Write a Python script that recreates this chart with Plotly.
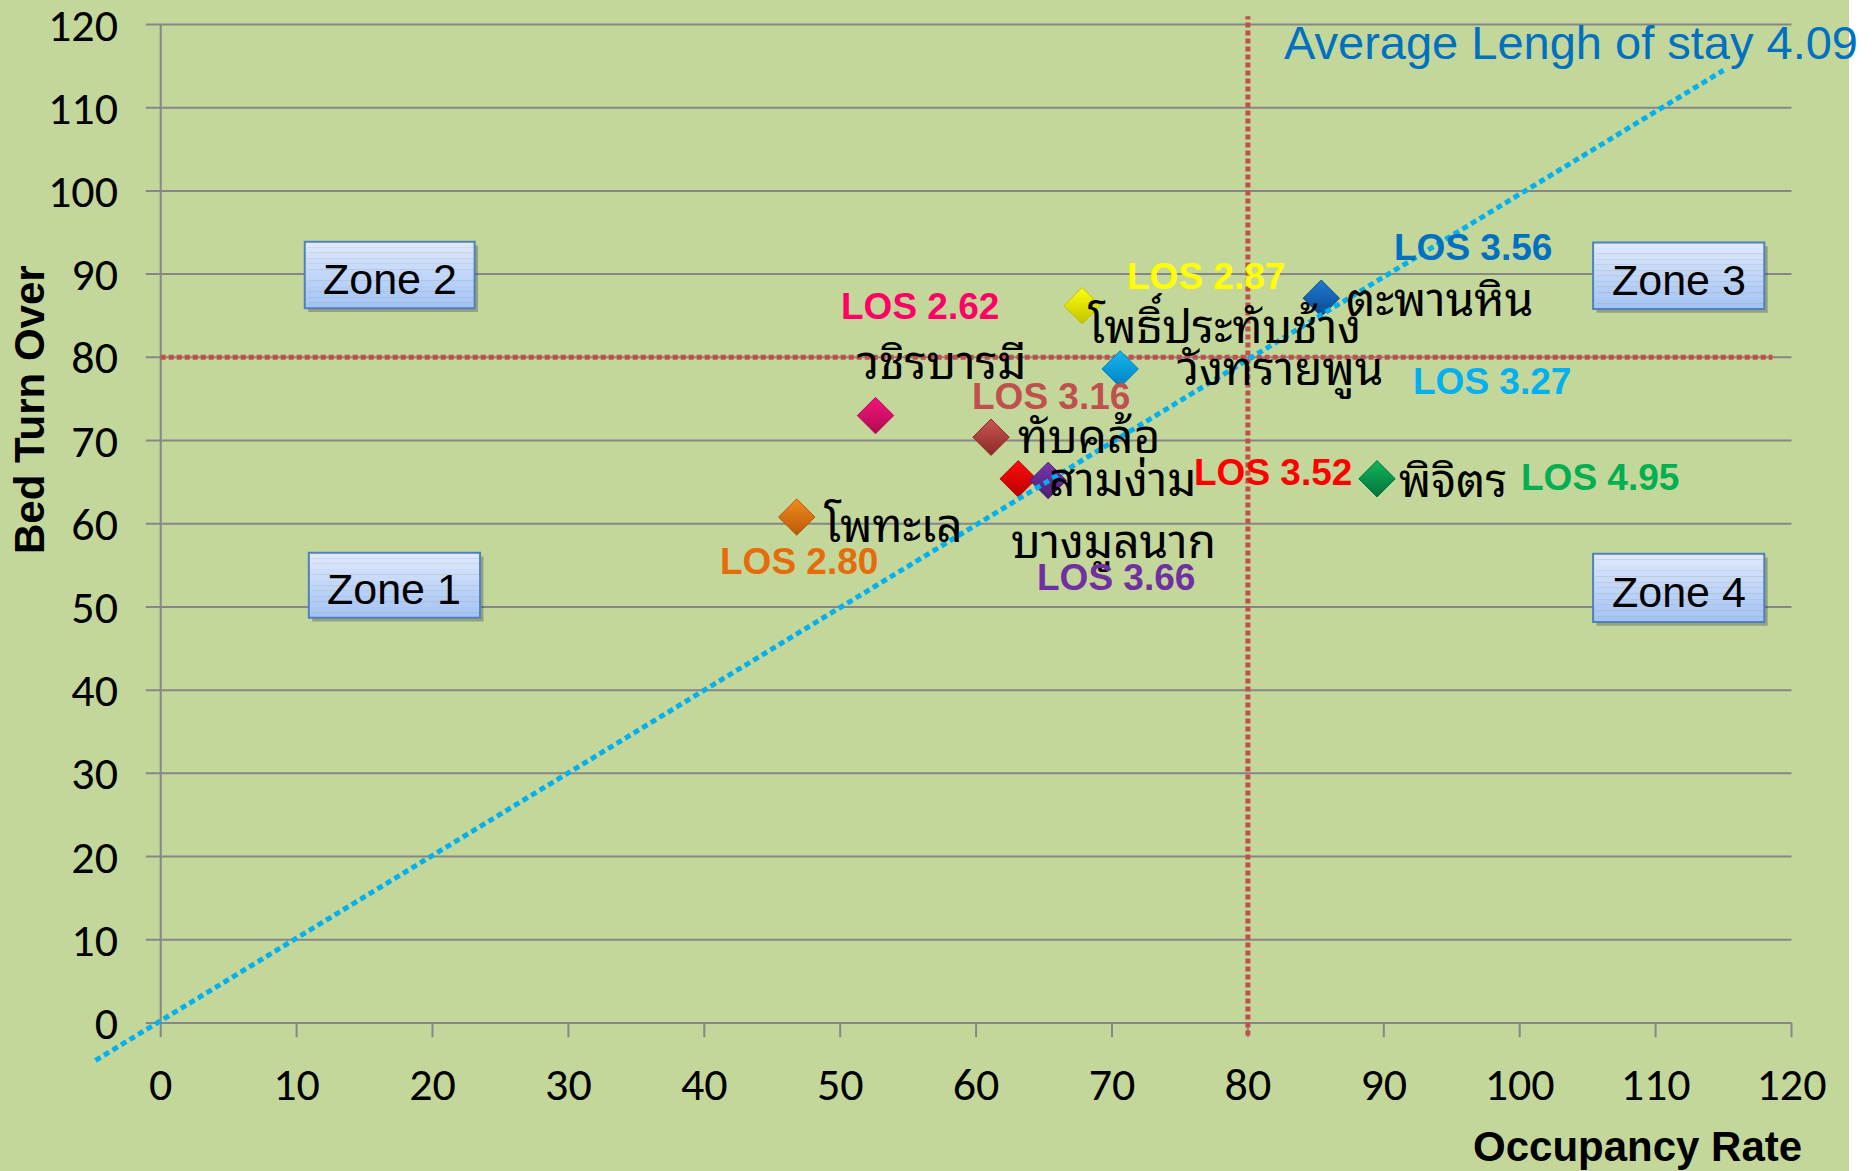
import plotly.graph_objects as go

# ---------------- data ----------------
hospitals = ["โพทะเล", "วชิรบารมี", "ทับคล้อ", "สามง่าม", "บางมูลนาก",
             "โพธิ์ประทับช้าง", "วังทรายพูน", "ตะพานหิน", "พิจิตร"]
occupancy_rate = [46.8, 52.6, 61.1, 63.1, 65.3, 67.8, 70.6, 85.4, 89.5]
bed_turn_over = [60.8, 73.0, 70.4, 65.4, 65.2, 86.2, 78.6, 87.1, 65.4]
los_values = [2.80, 2.62, 3.16, 3.52, 3.66, 2.87, 3.27, 3.56, 4.95]

x_ticks = [0, 10, 20, 30, 40, 50, 60, 70, 80, 90, 100, 110, 120]
y_ticks = [0, 10, 20, 30, 40, 50, 60, 70, 80, 90, 100, 110, 120]

occupancy_target = 80
turnover_target = 80
avg_los = 4.09
trend_x = [-4.8, 115.0]
trend_y = [-4.5, 114.5]

zone_labels = ["Zone 1", "Zone 2", "Zone 3", "Zone 4"]

# ---------------- style ----------------
marker_colors = ["#f58a1f", "#f5157d", "#cc5552", "#ff0d0d", "#7b38ae",
                 "#ffff10", "#18b6f0", "#1c7bd2", "#12b55a"]
marker_dark = ["#b85a08", "#b00a52", "#8a2a28", "#b80000", "#4a1c74",
               "#c2c200", "#0080c0", "#0a4a8c", "#00743a"]
los_colors = ["#e46c0a", "#ff0066", "#c0504d", "#ff0000", "#7030a0",
              "#ffff00", "#00b0f0", "#0070c0", "#00b050"]
# pixel offsets (dx right, dy down) of labels from their marker
name_offsets = [(97, 4), (66, -58), (98, -5), (104, -4), (65, 57),
                (142, 16), (160, -5), (118, -3), (76, -3)]
los_offsets = [(2, 44), (44, -109), (60, -41), (255, -6), (68, 97),
               (124, -29), (372, 13), (152, -51), (223, -1)]
zone_boxes = [(10.9, 23.5, 48.7, 56.5), (10.6, 23.1, 85.9, 93.9),
              (105.4, 118.0, 85.8, 93.8), (105.4, 118.0, 48.2, 56.4)]

BG = "#c4d79b"
GRID = "#868686"
THAI_FONT = ("Noto Sans Thai Looped, Garuda, Loma, Kinnari, Norasi, "
             "Noto Sans Thai, Noto Serif Thai, sans-serif")
TICK_FONT = "Carlito, Lato, sans-serif"
ARIAL = "Liberation Sans, Arial, sans-serif"

W, H = 1872, 1171
ML, MR, MT, MB = 86, 67, 10, 102
PW, PH = W - ML - MR, H - MT - MB
X0PX, KX = 160.7, 13.59
Y0PX, KY = 1023.0, 8.321
x_range = [(ML - X0PX) / KX, (W - MR - X0PX) / KX]
y_range = [(Y0PX - (H - MB)) / KY, (Y0PX - MT) / KY]


def paper_x(px):
    return (px - ML) / PW


def paper_y(py):
    return (H - MB - py) / PH


fig = go.Figure()
shapes = []

# white strip at the far right of the slide
shapes.append(dict(type="rect", xref="paper", yref="paper", x0=paper_x(1849),
                   x1=paper_x(W + 5), y0=paper_y(H + 5), y1=paper_y(-5),
                   fillcolor="white", line=dict(width=0), layer="below"))

# gridlines (with tick stub to the left)
for yv in y_ticks:
    shapes.append(dict(type="line", xref="x", yref="y", x0=-1.1, x1=x_ticks[-1],
                       y0=yv, y1=yv, line=dict(color=GRID, width=2), layer="below"))
# x tick stubs
for xv in x_ticks:
    shapes.append(dict(type="line", xref="x", yref="y", x0=xv, x1=xv,
                       y0=-1.7, y1=0, line=dict(color=GRID, width=2), layer="below"))
# vertical axis line
shapes.append(dict(type="line", xref="x", yref="y", x0=0, x1=0, y0=0, y1=y_ticks[-1],
                   line=dict(color=GRID, width=2), layer="below"))

# reference lines (80 / 80)
fig.add_trace(go.Scatter(x=[occupancy_target, occupancy_target], y=[-1.5, 121],
                         mode="lines", line=dict(color="#c0504d", width=5, dash="5px,3px"),
                         hoverinfo="skip", showlegend=False))
fig.add_trace(go.Scatter(x=[0, 118.6], y=[turnover_target, turnover_target],
                         mode="lines", line=dict(color="#c0504d", width=5, dash="5px,3px"),
                         hoverinfo="skip", showlegend=False))

# hospitals
fig.add_trace(go.Scatter(
    x=occupancy_rate, y=bed_turn_over, mode="markers", text=hospitals,
    marker=dict(symbol="diamond", size=28, color=marker_colors,
                gradient=dict(type="vertical", color=marker_dark),
                line=dict(color=marker_dark, width=1)),
    showlegend=False))

# trend line
fig.add_trace(go.Scatter(x=trend_x, y=trend_y, mode="lines",
                         line=dict(color="#00b0f0", width=5, dash="6px,4px"),
                         hoverinfo="skip", showlegend=False))

annotations = []
for i, name in enumerate(hospitals):
    dx, dy = name_offsets[i]
    annotations.append(dict(x=occupancy_rate[i], y=bed_turn_over[i], xref="x", yref="y",
                            text=name, showarrow=False, xshift=dx, yshift=-dy,
                            xanchor="center", yanchor="middle",
                            font=dict(family=THAI_FONT, size=46, color="black")))
    lx, ly = los_offsets[i]
    annotations.append(dict(x=occupancy_rate[i], y=bed_turn_over[i], xref="x", yref="y",
                            text="<b>LOS %.2f</b>" % los_values[i], showarrow=False,
                            xshift=lx, yshift=-ly, xanchor="center", yanchor="middle",
                            font=dict(family=ARIAL, size=37, color=los_colors[i])))

# zone boxes
for (x0, x1, y0, y1), lab in zip(zone_boxes, zone_labels):
    shapes.append(dict(type="rect", xref="x", yref="y", x0=x0 + 0.25, x1=x1 + 0.25,
                       y0=y0 - 0.45, y1=y1 - 0.45, fillcolor="rgba(60,60,60,0.35)",
                       line=dict(width=0)))
    n = 12
    top = (224, 234, 253)
    bot = (163, 194, 245)
    for k in range(n):
        t = (k + 0.5) / n
        c = tuple(int(top[j] + (bot[j] - top[j]) * t) for j in range(3))
        shapes.append(dict(type="rect", xref="x", yref="y", x0=x0, x1=x1,
                           y0=y1 - (y1 - y0) * (k + 1) / n, y1=y1 - (y1 - y0) * k / n,
                           fillcolor="rgb(%d,%d,%d)" % c, line=dict(width=0)))
    shapes.append(dict(type="rect", xref="x", yref="y", x0=x0, x1=x1, y0=y0, y1=y1,
                       fillcolor="rgba(0,0,0,0)", line=dict(color="#4f81bd", width=2)))
    annotations.append(dict(x=(x0 + x1) / 2, y=(y0 + y1) / 2, xref="x", yref="y",
                            text=lab, showarrow=False, xanchor="center", yanchor="middle",
                            yshift=-4,
                            font=dict(family=ARIAL, size=43, color="black")))

annotations.append(dict(x=paper_x(1282), y=paper_y(42), xref="paper", yref="paper",
                        text="Average Lengh of stay %.2f" % avg_los, showarrow=False,
                        xanchor="left", yanchor="middle",
                        font=dict(family=ARIAL, size=47, color="#0070c0")))
annotations.append(dict(x=paper_x(1637), y=paper_y(1146), xref="paper", yref="paper",
                        text="<b>Occupancy Rate</b>", showarrow=False,
                        xanchor="center", yanchor="middle",
                        font=dict(family=ARIAL, size=42, color="black")))
annotations.append(dict(x=paper_x(30), y=paper_y(410), xref="paper", yref="paper",
                        text="<b>Bed Turn Over</b>", showarrow=False, textangle=-90,
                        xanchor="center", yanchor="middle",
                        font=dict(family=ARIAL, size=42, color="black")))

fig.update_layout(
    width=W, height=H,
    margin=dict(l=ML, r=MR, t=MT, b=MB, pad=0, autoexpand=False),
    paper_bgcolor=BG, plot_bgcolor="rgba(0,0,0,0)",
    shapes=shapes, annotations=annotations, showlegend=False,
    xaxis=dict(range=x_range, tickvals=x_ticks, ticktext=[str(v) for v in x_ticks],
               showgrid=False, zeroline=False, showline=False, ticks="",
               automargin=False, ticklabeloverflow="allow",
               tickfont=dict(family=TICK_FONT, size=46, color="black"),
               ticklabelstandoff=-16, fixedrange=True),
    yaxis=dict(range=y_range, tickvals=y_ticks, ticktext=[str(v) for v in y_ticks],
               showgrid=False, zeroline=False, showline=False, ticks="",
               automargin=False, ticklabeloverflow="allow",
               tickfont=dict(family=TICK_FONT, size=46, color="black"),
               ticklabelstandoff=-33, fixedrange=True),
)

fig.write_html("out.html", config={"displayModeBar": False},
               post_script="document.body.style.margin='0';document.body.style.background='white';")
